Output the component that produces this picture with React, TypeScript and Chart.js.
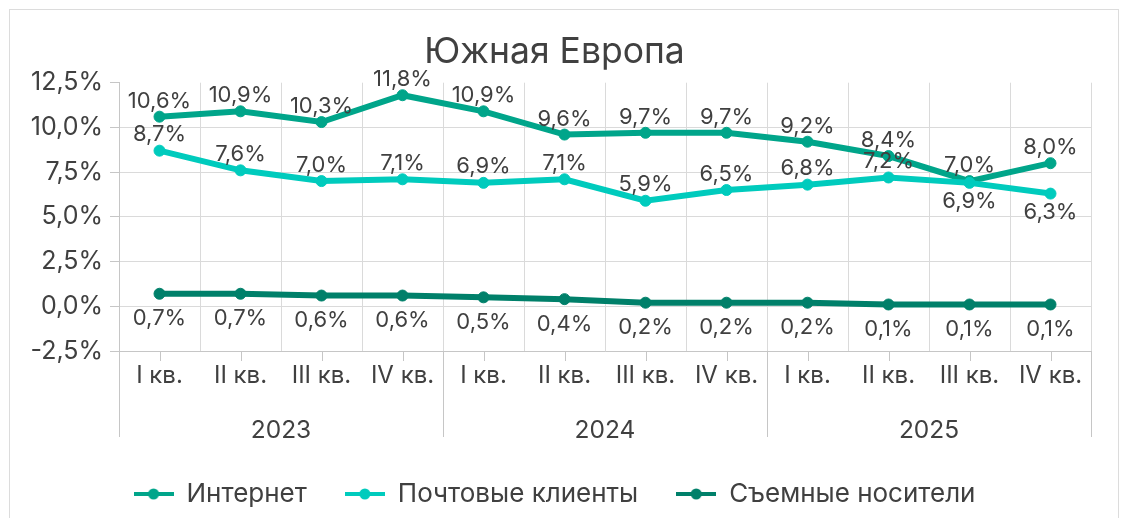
import React, { useEffect, useRef } from 'react';
import { Chart, registerables } from 'chart.js';

Chart.register(...registerables);

const quarters = ['I кв.', 'II кв.', 'III кв.', 'IV кв.', 'I кв.', 'II кв.', 'III кв.', 'IV кв.', 'I кв.', 'II кв.', 'III кв.', 'IV кв.'];
const years = ['2023', '2024', '2025'];

const internet = [10.6, 10.9, 10.3, 11.8, 10.9, 9.6, 9.7, 9.7, 9.2, 8.4, 7.0, 8.0];
const mail = [8.7, 7.6, 7.0, 7.1, 6.9, 7.1, 5.9, 6.5, 6.8, 7.2, 6.9, 6.3];
const removable = [0.7, 0.7, 0.6, 0.6, 0.5, 0.4, 0.2, 0.2, 0.2, 0.1, 0.1, 0.1];

const internetLabelPos = ['above', 'above', 'above', 'above', 'above', 'above', 'above', 'above', 'above', 'above', 'above', 'above'];
const mailLabelPos = ['above', 'above', 'above', 'above', 'above', 'above', 'above', 'above', 'above', 'above', 'below', 'below'];
const removableLabelPos = ['below', 'below', 'below', 'below', 'below', 'below', 'below', 'below', 'below', 'below', 'below', 'below'];

const seriesNames = ['Интернет', 'Почтовые клиенты', 'Съемные носители'];
const seriesColors = ['#00A58A', '#00CBBD', '#00806A'];

const yMin = -2.5;
const yMax = 12.5;
const yStep = 2.5;

const FONT = 'Inter';
const TEXT = '#404040';
const GRID = '#dadada';
const AXIS = '#c6c6c6';

const fmt = (v: number) => v.toFixed(1).replace('.', ',') + '%';

function legendSymbol(color: string) {
  const c = document.createElement('canvas');
  c.width = 40;
  c.height = 12;
  const g = c.getContext('2d')!;
  g.strokeStyle = color;
  g.lineWidth = 4;
  g.beginPath();
  g.moveTo(0, 6);
  g.lineTo(40, 6);
  g.stroke();
  g.fillStyle = color;
  g.beginPath();
  g.arc(20, 6, 5.5, 0, Math.PI * 2);
  g.fill();
  return c;
}

const valueLabels = {
  id: 'valueLabels',
  afterDatasetsDraw(chart: any) {
    const ctx = chart.ctx;
    ctx.save();
    ctx.font = `22px ${FONT}`;
    ctx.fillStyle = TEXT;
    ctx.textAlign = 'center';
    ctx.textBaseline = 'middle';
    chart.data.datasets.forEach((ds: any, di: number) => {
      const meta = chart.getDatasetMeta(di);
      meta.data.forEach((pt: any, i: number) => {
        const pos = ds.labelPos[i];
        const dy = pos === 'above' ? -ds.offAbove : ds.offBelow;
        ctx.fillText(fmt(ds.data[i]), pt.x, pt.y + dy);
      });
    });
    ctx.restore();
  },
};

const axisDecor = {
  id: 'axisDecor',
  afterDraw(chart: any) {
    const ctx = chart.ctx;
    const x = chart.scales.x;
    const x2 = chart.scales.x2;
    const area = chart.chartArea;
    ctx.save();
    ctx.strokeStyle = AXIS;
    ctx.lineWidth = 1;
    for (let i = 0; i < quarters.length; i++) {
      const px = Math.round(x.getPixelForValue(i)) + 0.5;
      ctx.beginPath();
      ctx.moveTo(px, area.bottom);
      ctx.lineTo(px, area.bottom + 10);
      ctx.stroke();
    }
    const half2 = (x2.getPixelForValue(1) - x2.getPixelForValue(0)) / 2;
    for (let g = 0; g <= years.length; g++) {
      const px = Math.round(x2.getPixelForValue(g) - half2) + 0.5;
      ctx.beginPath();
      ctx.moveTo(px, area.bottom);
      ctx.lineTo(px, area.bottom + 86);
      ctx.stroke();
    }
    ctx.restore();
  },
};

export default function App() {
  const ref = useRef<HTMLCanvasElement>(null);

  useEffect(() => {
    if (!ref.current) return;
    const mk = (label: string, data: number[], color: string, pos: string[], order: number, offAbove: number, offBelow: number) => ({
      label,
      data,
      borderColor: color,
      backgroundColor: color,
      borderWidth: 6,
      pointRadius: 5.5,
      pointBorderWidth: 1,
      pointBackgroundColor: color,
      pointBorderColor: color,
      tension: 0,
      order,
      labelPos: pos,
      offAbove,
      offBelow,
    });
    const chart = new Chart(ref.current, {
      type: 'line',
      data: {
        labels: quarters,
        datasets: [
          mk(seriesNames[0], internet, seriesColors[0], internetLabelPos, 1, 15.5, 19),
          mk(seriesNames[1], mail, seriesColors[1], mailLabelPos, 0, 16, 19),
          mk(seriesNames[2], removable, seriesColors[2], removableLabelPos, 2, 15, 25),
        ] as any,
      },
      options: {
        responsive: false,
        animation: false,
        devicePixelRatio: 1,
        layout: { padding: { left: 18, right: 31, top: 0, bottom: 1 } },
        plugins: {
          title: {
            display: true,
            text: 'Южная Европа',
            color: TEXT,
            font: { family: FONT, size: 35.5, weight: 'normal' as any },
            padding: { top: 31.3, bottom: 8.8 },
          },
          legend: {
            position: 'bottom',
            labels: {
              color: TEXT,
              font: { family: FONT, size: 26 },
              usePointStyle: true,
              pointStyleWidth: 40,
              padding: 38,
              generateLabels: (ch: any) =>
                ch.data.datasets.map((ds: any, i: number) => ({
                  text: ds.label,
                  fillStyle: ds.borderColor,
                  strokeStyle: ds.borderColor,
                  lineWidth: 0,
                  pointStyle: legendSymbol(ds.borderColor),
                  hidden: false,
                  datasetIndex: i,
                  fontColor: TEXT,
                })),
            },
          },
          tooltip: { enabled: false },
        },
        scales: {
          x: {
            type: 'category',
            offset: true,
            grid: { offset: true, color: GRID, drawTicks: false },
            border: { display: true, color: AXIS },
            ticks: { color: TEXT, font: { family: FONT, size: 24 }, padding: 10, maxRotation: 0, autoSkip: false },
            afterFit: (s: any) => { s.height = 48; },
          },
          x2: {
            type: 'category',
            labels: years,
            position: 'bottom',
            offset: true,
            grid: { display: false },
            border: { display: false },
            ticks: { color: TEXT, font: { family: FONT, size: 24.5 }, padding: 9, maxRotation: 0 },
            afterFit: (s: any) => { s.height = 44; },
          },
          y: {
            min: yMin,
            max: yMax,
            ticks: { stepSize: yStep, color: TEXT, font: { family: FONT, size: 25 }, padding: 7, callback: (v: any) => fmt(Number(v)) },
            grid: {
              color: (c: any) => (c.tick && c.tick.value === yMax ? 'rgba(0,0,0,0)' : GRID),
              tickColor: AXIS,
              tickLength: 9,
            },
            border: { display: true, color: AXIS },
            afterFit: (s: any) => { s.width = 101; },
          },
        },
      } as any,
      plugins: [valueLabels, axisDecor],
    });
    return () => chart.destroy();
  }, []);

  return (
    <div style={{ position: 'absolute', left: 0, top: 0, width: 1122, height: 518, overflow: 'hidden', background: '#fff' }}>
      <div style={{ position: 'absolute', left: 9, top: 9, width: 1110, height: 540, border: '1px solid #dcdcdc', boxSizing: 'border-box' }} />
      <canvas ref={ref} width={1122} height={518} style={{ position: 'absolute', left: 0, top: 0 }} />
    </div>
  );
}
